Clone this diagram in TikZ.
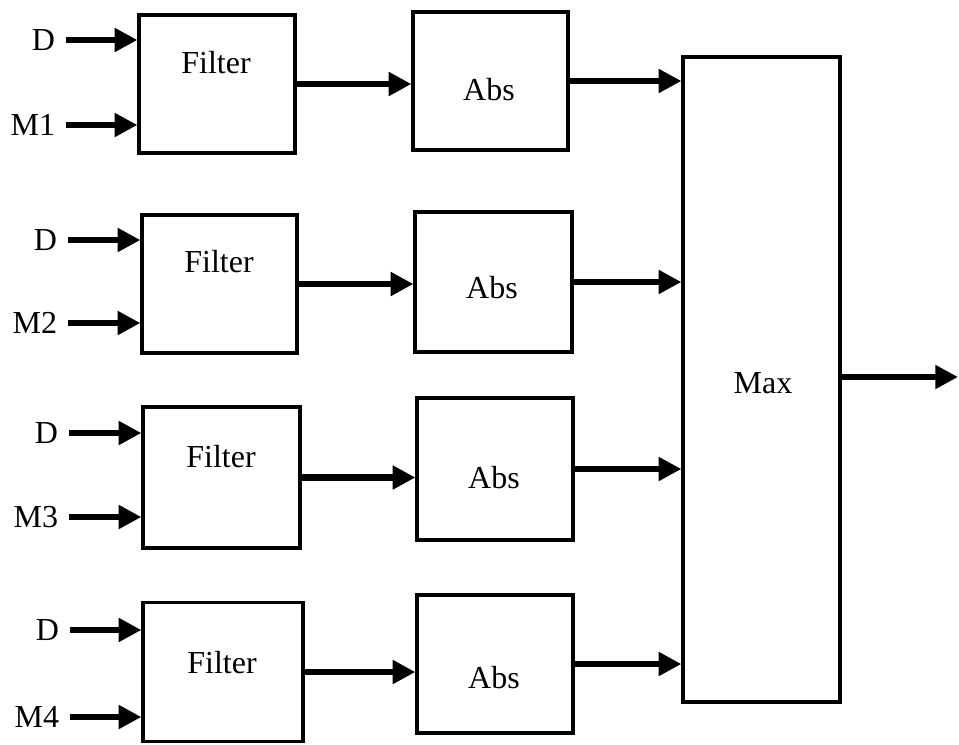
\documentclass[tikz,border=0pt]{standalone}
\usepackage{fontspec}
\setmainfont{Liberation Serif}
\usetikzlibrary{arrows.meta}
\begin{document}
\begin{tikzpicture}[x=0.75pt,y=-0.75pt,
  box/.style={draw,line width=2.4pt,inner sep=0pt},
  txt/.style={font=\fontsize{24}{28}\selectfont,inner sep=0pt},
  lbl/.style={font=\fontsize{24}{28}\selectfont,anchor=east,inner ysep=0pt,inner xsep=8pt},
  arr/.style={line width=4.8pt,-{Triangle[length=17pt,width=17pt]}}]
\useasboundingbox (0,0) rectangle (959,744);
% Filter boxes
\node[box,minimum width=117pt,minimum height=103.5pt] (f1) at (217,84) {};
\node[box,minimum width=116.25pt,minimum height=103.5pt] (f2) at (219.5,284) {};
\node[box,minimum width=117.75pt,minimum height=105.75pt] (f3) at (221.5,477.5) {};
\node[box,minimum width=120pt,minimum height=104.25pt] (f4) at (223,672) {};
% Abs boxes
\node[box,minimum width=116.25pt,minimum height=103.5pt] (a1) at (490.5,81) {};
\node[box,minimum width=117.75pt,minimum height=105pt] (a2) at (493.5,282) {};
\node[box,minimum width=117pt,minimum height=106.5pt] (a3) at (495,469) {};
\node[box,minimum width=117pt,minimum height=103.5pt] (a4) at (495,664) {};
% Max box
\node[box,minimum width=117.75pt,minimum height=483.75pt] (mx) at (761.5,379.5) {};
% texts
\node[txt] (f1t) at (216,63) {Filter};
\node[txt] (f2t) at (219,262) {Filter};
\node[txt] (f3t) at (221,457) {Filter};
\node[txt] (f4t) at (222,663) {Filter};
\node[txt] (a1t) at (489,90) {Abs};
\node[txt] (a2t) at (492,288) {Abs};
\node[txt] (a3t) at (494,478) {Abs};
\node[txt] (a4t) at (494,678) {Abs};
\node[txt] (mxt) at (763,383) {Max};
% input labels
\node[lbl] (d1) at (66,40) {D};
\node[lbl] (m1) at (66,125) {M1};
\node[lbl] (d2) at (68,240) {D};
\node[lbl] (m2) at (68,323) {M2};
\node[lbl] (d3) at (69,433) {D};
\node[lbl] (m3) at (69,517) {M3};
\node[lbl] (d4) at (70,630) {D};
\node[lbl] (m4) at (70,717) {M4};
\coordinate (out) at (958,377);
% input arrows
\foreach \l/\b in {d1/f1,m1/f1,d2/f2,m2/f2,d3/f3,m3/f3,d4/f4,m4/f4}
  \draw[arr] (\l.east) -- (\l.east -| \b.west);
% filter -> abs
\foreach \i in {1,2,3,4}
  \draw[arr] (f\i.east) -- (a\i.west |- f\i.east);
% abs -> max
\foreach \i in {1,2,3,4}
  \draw[arr] (a\i.east) -- (mx.west |- a\i.east);
% output
\draw[arr] (mx.east |- out) -- (out);
\end{tikzpicture}
\end{document}
